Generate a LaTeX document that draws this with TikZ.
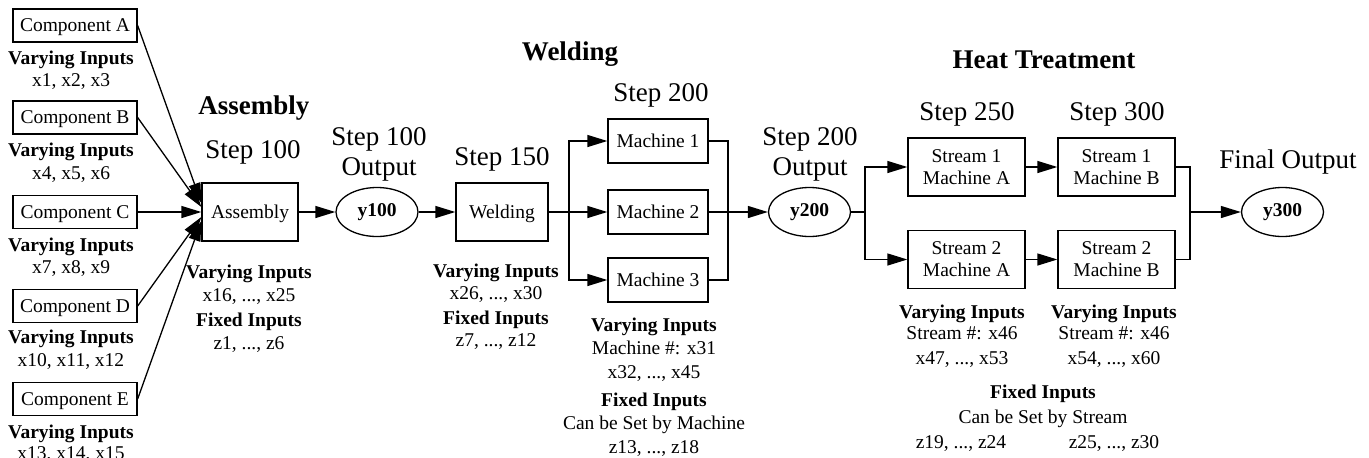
\documentclass[tikz,border=0pt]{standalone}
\usepackage{fontspec}
\setmainfont{Liberation Serif}
\usetikzlibrary{arrows.meta,shapes.geometric,calc}
\begin{document}
\begin{tikzpicture}[x=1pt,y=-1pt,
  box/.style={draw,line width=1.3pt,inner sep=0pt,text height=12.9pt,text depth=0pt,font=\fontsize{19.5}{22}\selectfont},
  box2/.style={draw,line width=1.3pt,inner sep=0pt,align=center,minimum width=117pt,minimum height=58pt,font=\fontsize{19.5}{22}\selectfont},
  oval/.style={draw,ellipse,line width=1.3pt,inner sep=0pt,minimum width=82pt,minimum height=49pt,font=\fontsize{19.5}{22}\selectfont\bfseries},
  txt/.style={inner sep=0pt,text height=12.9pt,text depth=0pt,font=\fontsize{19.5}{22}\selectfont},
  btxt/.style={inner sep=0pt,text height=12.9pt,text depth=0pt,font=\fontsize{19.5}{22}\selectfont\bfseries},
  steptxt/.style={inner sep=0pt,text height=17.9pt,text depth=0pt,font=\fontsize{27}{30}\selectfont},
  headtxt/.style={inner sep=0pt,text height=17.9pt,text depth=0pt,font=\fontsize{27}{30}\selectfont\bfseries},
  conn/.style={line width=1.3pt},
  arr/.style={conn,-{Triangle[length=20pt,width=12pt]}}
]
\useasboundingbox (0,0) rectangle (1369,458);

% components
\node[box,minimum width=124pt,minimum height=33pt] (ca) at (75,25.5) {Component A};
\node[box,minimum width=124pt,minimum height=33pt] (cb) at (75,117.5) {Component B};
\node[box,minimum width=124pt,minimum height=33pt] (cc) at (75,212) {Component C};
\node[box,minimum width=124pt,minimum height=33pt] (cd) at (75,306) {Component D};
\node[box,minimum width=124pt,minimum height=33pt] (ce) at (75,399) {Component E};

\node[btxt] (vca) at (71,58) {Varying Inputs};
\node[txt] (xca) at (71,80) {x1, x2, x3};
\node[btxt] (vcb) at (71,150) {Varying Inputs};
\node[txt] (xcb) at (71,173) {x4, x5, x6};
\node[btxt] (vcc) at (71,245) {Varying Inputs};
\node[txt] (xcc) at (71,267) {x7, x8, x9};
\node[btxt] (vcd) at (71,337) {Varying Inputs};
\node[txt] (xcd) at (71,360) {x10, x11, x12};
\node[btxt] (vce) at (71,432) {Varying Inputs};
\node[txt] (xce) at (71,453) {x13, x14, x15};

% assembly
\node[box,minimum width=96pt,minimum height=58pt] (asm) at (250,212) {Assembly};
\node[headtxt] (hasm) at (254,106) {Assembly};
\node[steptxt] (s100) at (253,150) {Step 100};
\node[btxt] (vasm) at (249,272) {Varying Inputs};
\node[txt] (xasm) at (249,295) {x16, ..., x25};
\node[btxt] (fasm) at (249,320) {Fixed Inputs};
\node[txt] (zasm) at (249,343) {z1, ..., z6};

% y100
\node[oval] (y100) at (377,212) {y100};
\node[steptxt] (o100a) at (379,137) {Step 100};
\node[steptxt] (o100b) at (379,167) {Output};

% welding
\node[steptxt] (s150) at (502,157) {Step 150};
\node[box,minimum width=92pt,minimum height=58pt] (wd) at (502,212) {Welding};
\node[headtxt] (hwd) at (570,52) {Welding};
\node[steptxt] (s200) at (661,93) {Step 200};
\node[btxt] (vwd) at (496,271) {Varying Inputs};
\node[txt] (xwd) at (496,293) {x26, ..., x30};
\node[btxt] (fwd) at (496,318) {Fixed Inputs};
\node[txt] (zwd) at (496,340) {z7, ..., z12};

\node[box,minimum width=100pt,minimum height=44pt] (m1) at (658,141) {Machine 1};
\node[box,minimum width=100pt,minimum height=44pt] (m2) at (658,212) {Machine 2};
\node[box,minimum width=100pt,minimum height=44pt] (m3) at (658,280) {Machine 3};
\node[btxt] (vm) at (654,325) {Varying Inputs};
\node[txt] (xm1) at (654,348) {Machine \#: x31};
\node[txt] (xm2) at (654,372) {x32, ..., x45};
\node[btxt] (fm) at (654,400) {Fixed Inputs};
\node[txt] (cm) at (654,423) {Can be Set by Machine};
\node[txt] (zm) at (654,447) {z13, ..., z18};

% y200
\node[oval] (y200) at (809.5,212) {y200};
\node[steptxt] (o200a) at (810,137) {Step 200};
\node[steptxt] (o200b) at (810,167) {Output};

% heat treatment
\node[headtxt] (hht) at (1044,60) {Heat Treatment};
\node[steptxt] (s250) at (967,112) {Step 250};
\node[steptxt] (s300) at (1117,112) {Step 300};
\node[box2] (s1a) at (966.5,167) {Stream 1\\Machine A};
\node[box2] (s2a) at (966.5,259.5) {Stream 2\\Machine A};
\node[box2] (s1b) at (1116.5,167) {Stream 1\\Machine B};
\node[box2] (s2b) at (1116.5,259.5) {Stream 2\\Machine B};

\node[btxt] (va) at (962,312) {Varying Inputs};
\node[txt] (sa) at (962,333) {Stream \#: x46};
\node[txt] (xa) at (962,358) {x47, ..., x53};
\node[btxt] (vb) at (1114,312) {Varying Inputs};
\node[txt] (sb) at (1114,333) {Stream \#: x46};
\node[txt] (xb) at (1114,358) {x54, ..., x60};
\node[btxt] (fs) at (1043,392) {Fixed Inputs};
\node[txt] (cs) at (1043,417) {Can be Set by Stream};
\node[txt] (za) at (961,442) {z19, ..., z24};
\node[txt] (zb) at (1114,442) {z25, ..., z30};

% final
\node[steptxt] (fo) at (1288,160) {Final Output};
\node[oval] (y300) at (1282.5,212) {y300};

% junctions
\coordinate (j1) at (569,212);
\coordinate (j2) at (728,212);
\coordinate (j3) at (865,212);
\coordinate (j4) at (1190,212);

% connectors
\draw[arr] (ca.east) -- ($(asm.west)+(0,-9)$);
\draw[arr] (cb.east) -- ($(asm.west)+(0,-5)$);
\draw[arr] (cc.east) -- (asm.west);
\draw[arr] (cd.east) -- ($(asm.west)+(0,5)$);
\draw[arr] (ce.east) -- ($(asm.west)+(0,9)$);

\draw[arr] (asm.east) -- (y100.west);
\draw[arr] (y100.east) -- (wd.west);

\draw[conn] (wd.east) -- (j1);
\draw[arr] (j1) |- (m1.west);
\draw[arr] (j1) -- (m2.west);
\draw[arr] (j1) |- (m3.west);

\draw[conn] (m1.east) -| (j2);
\draw[conn] (m3.east) -| (j2);
\draw[conn] (m2.east) -- (j2);
\draw[arr] (j2) -- (y200.west);

\draw[conn] (y200.east) -- (j3);
\draw[arr] (j3) |- (s1a.west);
\draw[arr] (j3) |- (s2a.west);
\draw[arr] (s1a.east) -- (s1b.west);
\draw[arr] (s2a.east) -- (s2b.west);

\draw[conn] (s1b.east) -| (j4);
\draw[conn] (s2b.east) -| (j4);
\draw[arr] (j4) -- (y300.west);
\end{tikzpicture}
\end{document}
